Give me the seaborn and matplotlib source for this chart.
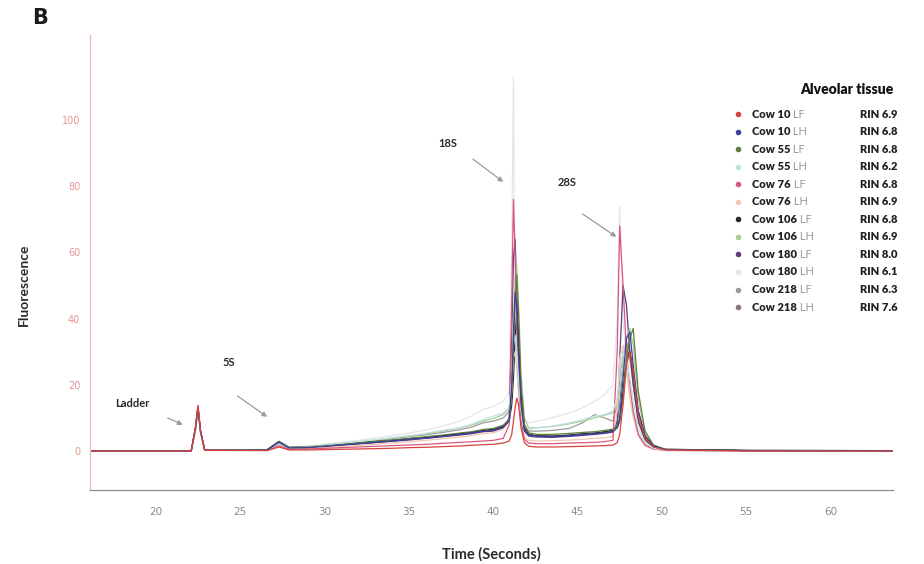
import matplotlib
matplotlib.use("Agg")
import matplotlib.pyplot as plt
import pandas as pd
import seaborn as sns
from matplotlib import font_manager

# ---- data -------------------------------------------------------------
time_s = [16.1, 22.1, 22.35, 22.5, 22.65, 22.9, 26.6, 27.3, 27.9,
          29.0, 30.0, 31.0, 32.0, 33.0, 34.0, 35.0, 36.0, 37.0, 38.0,
          38.7, 39.4, 40.0, 40.6, 40.95, 41.1, 41.2, 41.3, 41.4, 41.5,
          41.65, 41.85, 42.1, 42.6, 43.5, 44.5, 45.3, 46.0, 46.6, 47.1,
          47.35, 47.5, 47.7, 47.9, 48.1, 48.3, 48.6, 49.0, 49.5, 50.2,
          55.0, 63.7]

cow10_lf = [0, 0, 7, 13.5, 6, 0.2, 0.1, 1.2, 0.3,
            0.3, 0.4, 0.5, 0.6, 0.7, 0.8, 1.0, 1.1, 1.3, 1.5,
            1.7, 1.9, 2.0, 2.4, 3.0, 5, 9, 13, 16, 14,
            7, 2.5, 1.4, 1.2, 1.2, 1.3, 1.4, 1.5, 1.6, 1.8,
            2.5, 5, 14, 26, 30, 24, 11, 4, 1.2, 0.3, 0, 0]
cow10_lh = [0, 0, 7, 13, 6, 0.2, 0.3, 2.6, 0.9,
            1.0, 1.4, 1.8, 2.2, 2.6, 3.0, 3.5, 3.9, 4.4, 5.0,
            5.4, 6.0, 6.3, 7.2, 9, 20, 35, 48, 44, 30,
            14, 6.5, 4.8, 4.5, 4.3, 4.6, 5.0, 5.2, 5.5, 5.8,
            7, 10, 22, 34, 36, 26, 12, 4.5, 1.5, 0.4, 0.1, 0]
cow55_lf = [0, 0, 6.5, 13, 6, 0.2, 0.3, 2.8, 1.0,
            1.1, 1.5, 1.9, 2.4, 2.8, 3.3, 3.8, 4.3, 4.8, 5.4,
            5.8, 6.5, 6.8, 7.8, 9.5, 18, 30, 45, 53, 42,
            20, 8, 5.5, 5.0, 5.0, 5.3, 5.6, 5.8, 6.2, 6.6,
            7.5, 9, 16, 28, 34, 37, 18, 6, 1.8, 0.5, 0.1, 0]
cow55_lh = [0, 0, 6, 12.5, 5.5, 0.2, 0.3, 2.2, 0.9,
            1.2, 1.7, 2.3, 2.8, 3.4, 4.0, 4.6, 5.3, 6.2, 7.0,
            8.0, 9.5, 10.5, 11.5, 13, 22, 32, 35, 30, 22,
            12, 7.5, 6.5, 7.0, 7.5, 8.5, 9.5, 10.5, 11.0, 12.0,
            16, 24, 30, 28, 22, 15, 7, 2.5, 0.8, 0.2, 0, 0]
cow76_lf = [0, 0, 7, 13.8, 6.2, 0.2, 0.2, 1.6, 0.5,
            0.6, 0.8, 1.0, 1.2, 1.4, 1.6, 1.8, 2.0, 2.3, 2.6,
            2.8, 3.0, 3.2, 3.8, 8, 45, 76, 60, 38, 22,
            9, 3.5, 2.4, 2.2, 2.2, 2.4, 2.5, 2.6, 2.8, 3.2,
            30, 68, 50, 30, 20, 12, 5, 1.8, 0.6, 0.2, 0, 0]
cow76_lh = [0, 0, 6.5, 13, 6, 0.2, 0.2, 2.0, 0.6,
            0.8, 1.1, 1.4, 1.7, 2.0, 2.4, 2.8, 3.2, 3.7, 4.2,
            4.6, 5.2, 5.5, 6.5, 9, 18, 28, 30, 25, 17,
            8, 4, 3.2, 3.0, 3.1, 3.3, 3.5, 3.8, 4.0, 4.4,
            12, 28, 32, 24, 16, 10, 4.5, 1.5, 0.5, 0.1, 0, 0]
cow106_lf = [0, 0, 6.5, 13, 6, 0.2, 0.4, 2.9, 1.1,
             1.2, 1.6, 2.0, 2.4, 2.9, 3.2, 3.7, 4.1, 4.6, 5.2,
             5.6, 6.2, 6.5, 7.5, 9.0, 14, 22, 34, 42, 35,
             18, 7, 5.0, 4.6, 4.5, 4.8, 5.2, 5.4, 5.8, 6.2,
             7, 9, 18, 28, 30, 24, 12, 4.5, 1.5, 0.5, 0.2, 0.1]
cow106_lh = [0, 0, 6.5, 13, 6, 0.2, 0.3, 2.5, 1.0,
             1.3, 1.8, 2.3, 2.8, 3.3, 3.9, 4.5, 5.2, 6.0, 7.0,
             7.8, 9.0, 9.8, 11, 13, 24, 40, 52, 56, 45,
             24, 10, 7.0, 7.0, 7.4, 8.2, 9.0, 10, 10.8, 11.5,
             14, 18, 26, 34, 37, 32, 16, 5, 1.6, 0.4, 0.1, 0]
cow180_lf = [0, 0, 7, 13.5, 6, 0.2, 0.3, 2.6, 0.9,
             1.0, 1.3, 1.7, 2.1, 2.5, 2.9, 3.3, 3.8, 4.3, 4.8,
             5.2, 5.8, 6.0, 7.0, 10, 35, 58, 64, 48, 30,
             14, 6, 4.5, 4.2, 4.1, 4.4, 4.7, 5.0, 5.3, 5.7,
             9, 28, 50, 44, 30, 20, 9, 3.5, 1.2, 0.4, 0.1, 0]
cow180_lh = [0, 0, 6, 12.5, 5.5, 0.2, 0.3, 2.0, 1.0,
             1.5, 2.0, 2.6, 3.2, 3.9, 4.6, 5.4, 6.3, 7.5, 9.0,
             10.5, 12.5, 13.5, 15, 18, 60, 113, 40, 28, 20,
             12, 9, 8.5, 9.0, 10, 11.5, 13, 15, 17, 20,
             40, 74, 40, 25, 18, 12, 6, 2, 0.6, 0.2, 0, 0]
cow218_lf = [0, 0, 6.5, 13, 6, 0.2, 0.3, 2.4, 1.0,
             1.2, 1.7, 2.2, 2.7, 3.2, 3.7, 4.3, 4.9, 5.6, 6.4,
             7.2, 8.5, 9.0, 10, 12, 22, 34, 42, 45, 36,
             18, 8, 6.0, 6.0, 6.2, 6.8, 8.5, 11, 10, 9,
             14, 22, 30, 33, 28, 20, 9, 3, 1.0, 0.3, 0.1, 0]
cow218_lh = [0, 0, 6.5, 13, 6, 0.2, 0.3, 2.5, 1.0,
             1.1, 1.5, 1.9, 2.3, 2.7, 3.1, 3.6, 4.0, 4.5, 5.0,
             5.5, 6.0, 6.3, 7.2, 9, 16, 26, 36, 38, 30,
             15, 6.5, 4.8, 4.5, 4.4, 4.7, 5.0, 5.3, 5.6, 6.0,
             8, 14, 26, 33, 30, 22, 10, 3.8, 1.2, 0.4, 0.1, 0]

cow_ids = ["Cow 10", "Cow 10", "Cow 55", "Cow 55", "Cow 76", "Cow 76",
           "Cow 106", "Cow 106", "Cow 180", "Cow 180", "Cow 218", "Cow 218"]
lobes = ["LF", "LH", "LF", "LH", "LF", "LH", "LF", "LH", "LF", "LH", "LF", "LH"]
rin_values = ["6.9", "6.8", "6.8", "6.2", "6.8", "6.9",
              "6.8", "6.9", "8.0", "6.1", "6.3", "7.6"]
traces = [cow10_lf, cow10_lh, cow55_lf, cow55_lh, cow76_lf, cow76_lh,
          cow106_lf, cow106_lh, cow180_lf, cow180_lh, cow218_lf, cow218_lh]
trace_colors = ["#d8433c", "#3b3f9c", "#5f7d3c", "#bfe3e3", "#d9577e", "#f0c9b2",
                "#262626", "#a9cc92", "#5b3b7c", "#e4e4ee", "#9b9b9b", "#8a7486"]

tick_x = [20, 25, 30, 35, 40, 45, 50, 55, 60]
tick_y = [0, 20, 40, 60, 80, 100]

# ---- fonts ------------------------------------------------------------
available = {f.name for f in font_manager.fontManager.ttflist}
label_font = next((f for f in ["Liberation Sans Narrow", "Lato", "Open Sans"]
                   if f in available), "DejaVu Sans")

sns.set_theme(style="white")
plt.rcParams["font.family"] = ["DejaVu Sans"]

# ---- long table for seaborn --------------------------------------------
names = [f"{c} {l}" for c, l in zip(cow_ids, lobes)]
rows = []
for name, vals in zip(names, traces):
    for t, v in zip(time_s, vals):
        rows.append((name, t, v))
df = pd.DataFrame(rows, columns=["sample", "time", "fluorescence"])
palette = dict(zip(names, trace_colors))

fig = plt.figure(figsize=(9.24, 5.64), dpi=100)
ax = fig.add_axes([90 / 924, 1 - 490 / 564, (893 - 90) / 924, (490 - 35) / 564])

sns.lineplot(data=df, x="time", y="fluorescence", hue="sample",
             hue_order=names[::-1], palette=palette, estimator=None,
             sort=False, legend=False, linewidth=0.9, ax=ax)

ax.set_xlim(16.1, 63.7)
ax.set_ylim(-11.8, 125.7)
ax.set_xticks(tick_x)
ax.set_yticks(tick_y)
ax.tick_params(axis="x", colors="#8a8a8a", labelsize=7.5, length=4, width=0.8,
               direction="out", pad=8)
ax.tick_params(axis="y", colors="#e6a0a0", labelsize=7, length=4, width=0.8,
               direction="out", pad=3)
ax.tick_params(axis="x", labelcolor="#8a8a8a")
ax.tick_params(axis="y", labelcolor="#e49494")
for side in ("top", "right"):
    ax.spines[side].set_visible(False)
ax.spines["left"].set_color("#efb8b8")
ax.spines["left"].set_linewidth(0.9)
ax.spines["bottom"].set_color("#8c8c8c")
ax.spines["bottom"].set_linewidth(0.9)

ax.set_xlabel("Time (Seconds)", fontsize=10.5, fontweight="bold",
              family=label_font, color="#2a2a2a", labelpad=22)
ax.set_ylabel("Fluorescence", fontsize=10, fontweight="bold",
              family=label_font, color="#2a2a2a")
ax.yaxis.set_label_coords(-0.075, 0.45)

# ---- peak annotations ---------------------------------------------------
arrow = dict(arrowstyle="-|>", color="#9a9a9a", lw=0.9, mutation_scale=7,
             shrinkA=0, shrinkB=0)
notes = [("Ladder", (18.6, 14.2), (20.7, 10.0), (21.6, 7.9)),
         ("5S", (24.3, 26.6), (24.85, 16.6), (26.6, 10.3)),
         ("18S", (37.3, 93.0), (38.8, 88.2), (40.6, 81.3)),
         ("28S", (44.4, 81.0), (45.3, 71.6), (47.3, 64.7))]
for text, pos, start, end in notes:
    ax.text(pos[0], pos[1], text, fontsize=8, fontweight="bold",
            family=label_font, color="#2a2a2a", ha="center", va="center")
    ax.annotate("", xy=end, xytext=start, arrowprops=arrow)

# ---- legend block -------------------------------------------------------
fig.text(847 / 924, 1 - 90 / 564, "Alveolar tissue", fontsize=10,
         fontweight="heavy", family=label_font, color="#111111",
         ha="center", va="center")
for i, (cid, lobe, rin, col) in enumerate(zip(cow_ids, lobes, rin_values,
                                              trace_colors)):
    fy = 1 - (114 + i * 17.55) / 564
    ax.plot([738 / 924], [fy], marker="o", ms=4, color=col, mec="none",
            transform=fig.transFigure, clip_on=False)
    t = fig.text(752 / 924, fy, cid, fontsize=8, fontweight="heavy",
                 family=label_font, color="#222222", ha="left", va="center")
    ax.annotate(" " + lobe, xy=(1, 0.5), xycoords=t, fontsize=8,
                family=label_font, color="#9a9a9a", ha="left", va="center")
    fig.text(860 / 924, fy, "RIN " + rin, fontsize=8, fontweight="heavy",
             family=label_font, color="#222222", ha="left", va="center")

fig.text(40 / 924, 1 - 18 / 564, "B", fontsize=15, fontweight="bold",
         color="#1a1a1a", ha="center", va="center")

fig.savefig("out.png", dpi=100, facecolor="white")
